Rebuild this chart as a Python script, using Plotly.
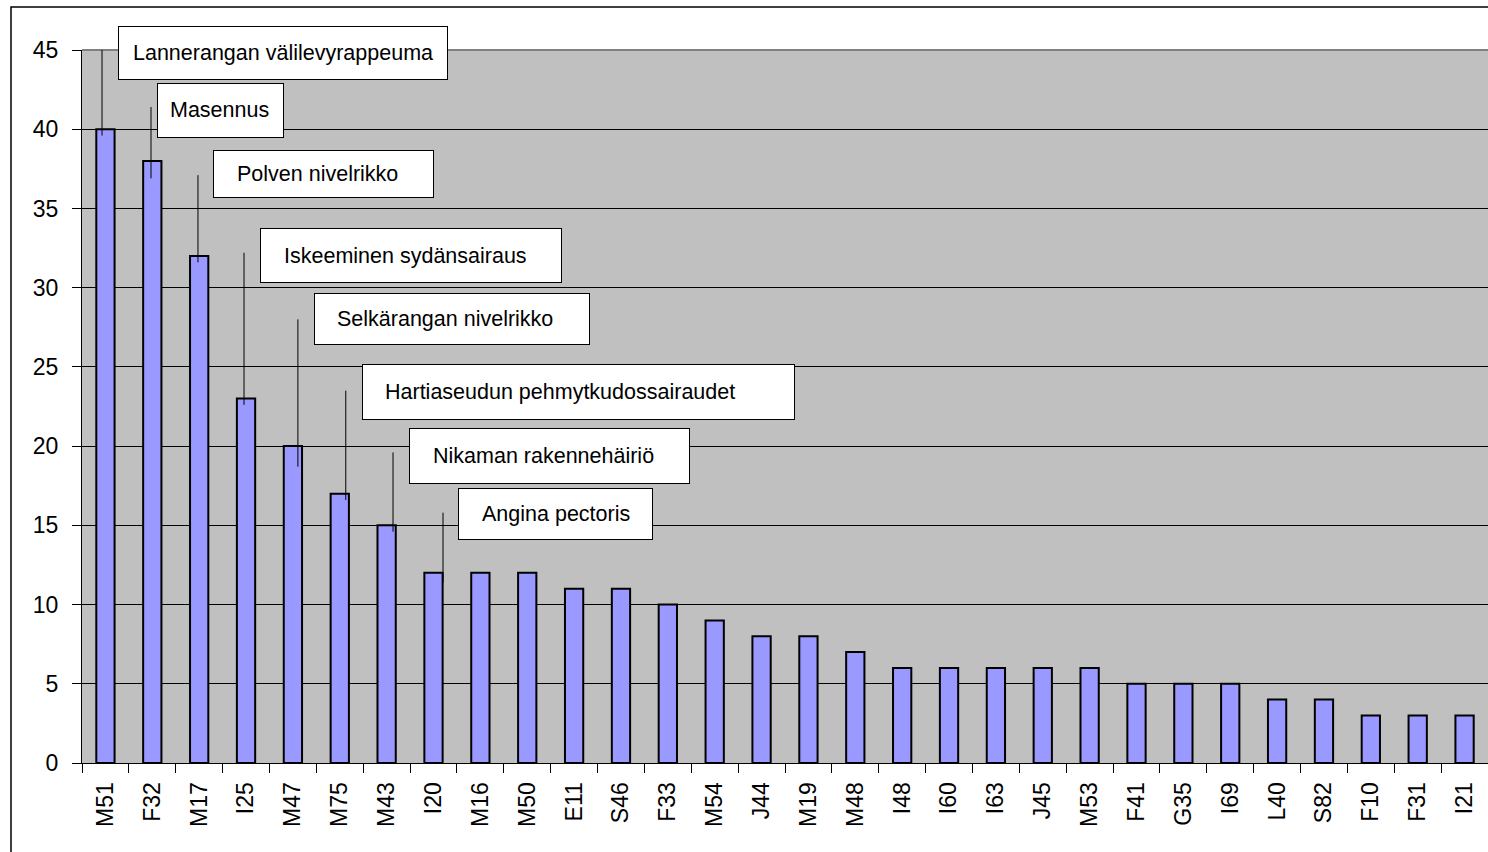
import plotly.graph_objects as go

# ---- data ----
categories = ["M51", "F32", "M17", "I25", "M47", "M75", "M43", "I20", "M16", "M50",
              "E11", "S46", "F33", "M54", "J44", "M19", "M48", "I48", "I60", "I63",
              "J45", "M53", "F41", "G35", "I69", "L40", "S82", "F10", "F31", "I21"]
values = [40, 38, 32, 23, 20, 17, 15, 12, 12, 12,
          11, 11, 10, 9, 8, 8, 7, 6, 6, 6,
          6, 6, 5, 5, 5, 4, 4, 3, 3, 3]
label_texts = ["Lannerangan välilevyrappeuma", "Masennus", "Polven nivelrikko",
               "Iskeeminen sydänsairaus", "Selkärangan nivelrikko",
               "Hartiaseudun pehmytkudossairaudet", "Nikaman rakennehäiriö",
               "Angina pectoris"]
label_targets = ["M51", "F32", "M17", "I25", "M47", "M75", "M43", "I20"]

# ---- label layout (positions/sizes, not data) ----
label_y = [44.8, 41.2, 37.2, 32.0, 28.0, 23.4, 19.4, 15.7]        # box centre (axis units)
line_top = [45.0, 41.4, 37.1, 32.2, 28.0, 23.5, 19.6, 15.8]
line_drop = [0.4, 1.1, 0.4, 0.4, 1.3, 0.4, 0.4, 0.6]              # how far below bar top the leader ends
box_dx = [12.6, 4.7, 13.8, 14, 21, 22, 22.4, 24.5]                 # px from category centre
box_w = [328, 125, 219, 300, 274, 431, 279, 193]
box_h = [52, 53, 46, 53, 50, 54, 54, 50]
text_pad = [13, 11, 22, 22, 21, 21, 22, 22]
line_dx = [-3.4, -1.3, -1.2, -2, 5, 6, 6.4, 9.5]

FONT = "Liberation Sans, Arial, sans-serif"

fig = go.Figure()
fig.add_trace(go.Bar(
    x=categories, y=values, width=0.39,
    marker=dict(color="#9999FF", line=dict(color="black", width=2)),
    showlegend=False, hoverinfo="x+y",
))

shapes = []
annotations = []
for k, (txt, tgt) in enumerate(zip(label_texts, label_targets)):
    i = categories.index(tgt)
    v = values[i]
    shapes.append(dict(
        type="line", xref="x", yref="y", xsizemode="pixel", xanchor=i,
        x0=line_dx[k], x1=line_dx[k], y0=v - line_drop[k], y1=line_top[k],
        line=dict(color="black", width=1), layer="above",
    ))
    annotations.append(dict(
        x=i, y=label_y[k], xref="x", yref="y", xanchor="left", yanchor="middle",
        xshift=box_dx[k], text="\u00a0", showarrow=False,
        width=box_w[k], height=box_h[k], borderpad=0, borderwidth=1,
        bordercolor="black", bgcolor="white",
    ))
    annotations.append(dict(
        x=i, y=label_y[k], xref="x", yref="y", xanchor="left", yanchor="middle",
        xshift=box_dx[k] + text_pad[k], text=txt, showarrow=False,
        font=dict(family=FONT, size=21.5, color="black"),
    ))

# plot area top border (grey) and chart area border (black)
shapes.append(dict(type="line", xref="paper", yref="paper", x0=0, x1=1, y0=1, y1=1,
                   line=dict(color="#808080", width=2), layer="below"))
shapes.append(dict(type="rect", xref="paper", yref="paper", x0=-0.0505, x1=1.05,
                   y0=-0.3, y1=1.0603, line=dict(color="black", width=1.5),
                   fillcolor="rgba(0,0,0,0)", layer="below"))

fig.update_layout(
    width=1488, height=852,
    margin=dict(l=82, r=0, t=50, b=89),
    paper_bgcolor="white", plot_bgcolor="#C0C0C0",
    font=dict(family=FONT, size=23, color="black"),
    bargap=0.61,
    shapes=shapes, annotations=annotations,
    xaxis=dict(
        type="category", tickangle=-90, showline=True, linecolor="black", linewidth=1,
        ticks="outside", ticklen=9, tickcolor="black", tickson="boundaries",
        showgrid=False, ticklabelstandoff=9, tickfont=dict(size=23),
    ),
    yaxis=dict(
        range=[0, 45], dtick=5, showline=True, linecolor="black", linewidth=1,
        ticks="outside", ticklen=9, tickcolor="black", showgrid=True,
        gridcolor="black", gridwidth=1, zeroline=False, ticklabelstandoff=9,
        tickfont=dict(size=23),
    ),
)

fig.write_html(
    "out.html",
    config={"displayModeBar": False},
    post_script="document.body.style.margin='0';document.body.style.overflow='hidden';",
)
